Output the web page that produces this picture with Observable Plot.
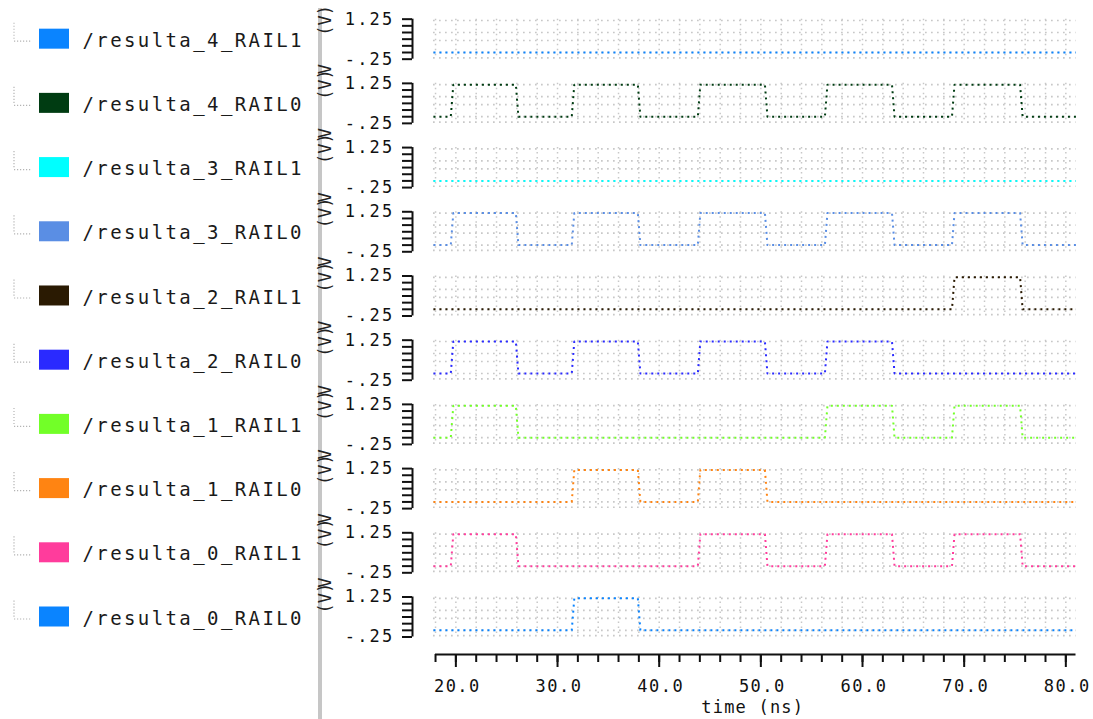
<!DOCTYPE html>
<html>
<head>
<meta charset="utf-8">
<script src="https://cdn.jsdelivr.net/npm/d3@7"></script>
<script src="https://cdn.jsdelivr.net/npm/@observablehq/plot@0.6"></script>
<style>
  html, body { margin: 0; padding: 0; background: #fff; }
  #chart svg { display: block; }
</style>
</head>
<body>
<div id="chart"></div>
<script>
// ---------------- data ----------------
const signals = [
  "/resulta_4_RAIL1", "/resulta_4_RAIL0",
  "/resulta_3_RAIL1", "/resulta_3_RAIL0",
  "/resulta_2_RAIL1", "/resulta_2_RAIL0",
  "/resulta_1_RAIL1", "/resulta_1_RAIL0",
  "/resulta_0_RAIL1", "/resulta_0_RAIL0"
];
const colors = [
  "#0a84ff", "#003c12",
  "#00ffff", "#5a8ee4",
  "#2a1a02", "#2a2aff",
  "#72ff28", "#ff8412",
  "#ff3c9c", "#0a84ff"
];
// edge times (ns) of the five data phases
const riseTimes = [19.5, 31.4, 43.8, 56.3, 68.8];
const fallTimes = [25.9, 37.9, 50.4, 62.9, 75.5];
// which phases each rail is high in
const pulseSlots = [
  [], [0, 1, 2, 3, 4],
  [], [0, 1, 2, 3, 4],
  [4], [0, 1, 2, 3],
  [0, 3, 4], [1, 2],
  [0, 2, 3, 4], [1]
];
const lowLevel = 0;
const highLevel = 1.2;
const edgeTime = 0.25;
const timeStart = 17.8;
const timeEnd = 81;
const axisStart = 18;
const minorTicks = d3.range(18, 81, 2);
const majorTicks = [20, 30, 40, 50, 60, 70, 80];
const voltTicks = [-0.25, 0, 0.25, 0.5, 0.75, 1, 1.25];
const voltLabelValues = [1.25, -0.25];
const voltLabelTexts = ["1.25", "-.25"];
const gridLevels = [1.2, 0.75, 0.45, 0, -0.2];
const gridTimes = d3.range(18, 81, 2);
const xLabel = "time (ns)";
const unitLabel = "(V)";

// ---------------- derived tables ----------------
const wave = signals.flatMap((name, i) => {
  const pts = [{name, t: timeStart, v: lowLevel}];
  pulseSlots[i].forEach(s => {
    pts.push({name, t: riseTimes[s], v: lowLevel});
    pts.push({name, t: riseTimes[s] + edgeTime, v: highLevel});
    pts.push({name, t: fallTimes[s], v: highLevel});
    pts.push({name, t: fallTimes[s] + edgeTime, v: lowLevel});
  });
  pts.push({name, t: timeEnd, v: lowLevel});
  return pts;
});
const hGrid = signals.flatMap(name => gridLevels.map(v => ({name, v})));
const vGrid = signals.flatMap(name => gridTimes.map(t => ({name, t})));
const vLabels = signals.flatMap(name => voltLabelValues.map((v, k) => ({name, v, label: voltLabelTexts[k]})));
const last = signals[signals.length - 1];
const upper = signals.slice(0, -1);

const MONO = "DejaVu Sans Mono";
const GRID = "#c8c8c8";

const chart = Plot.plot({
  width: 1093,
  height: 719,
  marginLeft: 433,
  marginRight: 17.5,
  marginTop: 18.67,
  marginBottom: 82.5,
  style: {background: "#fff", fontFamily: MONO, color: "#111"},
  x: {domain: [timeStart, timeEnd], axis: null},
  y: {domain: [-0.25, 1.25], axis: null},
  fy: {domain: signals, paddingInner: 0.377, paddingOuter: 0, round: false, axis: null},
  color: {domain: signals, range: colors},
  marks: [
    // separator bar
    Plot.rect([0], {facet: "super", insetLeft: -115, insetRight: 753.5, insetTop: 8 - 18.67, insetBottom: -82.5,
      fill: "#c6c6c6"}),
    // grid
    Plot.ruleY(hGrid, {fy: "name", y: "v", stroke: GRID, strokeWidth: 1.7, strokeDasharray: "1.7 4.3"}),
    Plot.ruleX(vGrid, {fy: "name", x: "t", stroke: GRID, strokeWidth: 1.5, strokeDasharray: "1.5 3.5"}),
    // waveforms
    Plot.line(wave, {fy: "name", x: "t", y: "v", z: "name", stroke: "name", strokeWidth: 2,
      strokeDasharray: "2 4", strokeLinecap: "butt", curve: "linear"}),
    // y comb
    Plot.axisY({ticks: voltTicks, tickSize: 10, tickFormat: () => "", label: null, dx: -21, strokeWidth: 2, stroke: "#111"}),
    Plot.ruleX(signals, {fy: d => d, x: () => timeStart, y1: -0.25, y2: 1.25, dx: -21, strokeWidth: 2, stroke: "#111"}),
    // y labels
    Plot.text(vLabels, {fy: "name", y: "v", text: "label", frameAnchor: "left", textAnchor: "end", dx: -39,
      fontSize: 17, fill: "#111"}),
    // unit labels (rotated)
    Plot.text(signals, {fy: d => d, frameAnchor: "left", text: () => unitLabel, rotate: -90, dx: -108, dy: -3.5,
      fontSize: 17, fill: "#222"}),
    Plot.text(upper, {fy: d => d, frameAnchor: "left", text: () => "V", rotate: -90, dx: -108, dy: 35,
      fontSize: 17, fill: "#222"}),
    // legend tree connectors
    Plot.ruleX(signals, {fy: d => d, x: () => timeStart, dx: -419.5, insetTop: 4, insetBottom: 18,
      stroke: "#b4b4b4", strokeWidth: 1.2, strokeDasharray: "1.2 1.8"}),
    Plot.ruleY(signals, {fy: d => d, y: () => 0.5, dy: 2, insetLeft: -419, insetRight: 1044.5,
      stroke: "#b4b4b4", strokeWidth: 1.2, strokeDasharray: "1.2 1.8"}),
    // legend swatches
    Plot.rect(signals, {fy: d => d, fill: d => d, insetLeft: -394, insetRight: 1006.5, insetTop: 10, insetBottom: 10}),
    // legend names
    Plot.text(signals, {fy: d => d, text: d => d, frameAnchor: "left", textAnchor: "start", dx: -351, dy: 1.5,
      fontSize: 19, fill: "#1a1a1a"}),
    // x axis
    Plot.ruleY([last], {fy: d => d, y: () => -0.25, x1: () => axisStart, x2: () => timeEnd, dy: 17.5,
      strokeWidth: 2, stroke: "#111"}),
    Plot.ruleX(minorTicks.map(t => ({t, name: last})), {fy: "name", x: "t", insetTop: 57.5, insetBottom: -25.5,
      strokeWidth: 2, stroke: "#111"}),
    Plot.ruleX(majorTicks.map(t => ({t, name: last})), {fy: "name", x: "t", insetTop: 57.5, insetBottom: -30.5,
      strokeWidth: 2, stroke: "#111"}),
    Plot.text(majorTicks.map(t => ({t, name: last})), {fy: "name", x: "t", text: d => d3.format(".1f")(d.t),
      frameAnchor: "bottom", dy: 54.5, dx: 1.5, fontSize: 17, fill: "#111"}),
    Plot.text([last], {fy: d => d, frameAnchor: "bottom", text: () => xLabel, dy: 76, dx: -2,
      fontSize: 17, fill: "#111"})
  ]
});

// letter spacing to mimic the wide bitmap font of the original
d3.select(chart).selectAll("text").each(function () {
  const s = this.textContent;
  let ls = null;
  if (s.startsWith("/resulta")) ls = 2.4;
  else if (s === "1.25" || s === "-.25") ls = 2.2;
  else if (/^\d+\.0$/.test(s)) ls = 1.5;
  else if (s === xLabel) ls = 1.2;
  if (ls !== null) this.style.letterSpacing = ls + "px";
});
document.getElementById("chart").appendChild(chart);
</script>
</body>
</html>
